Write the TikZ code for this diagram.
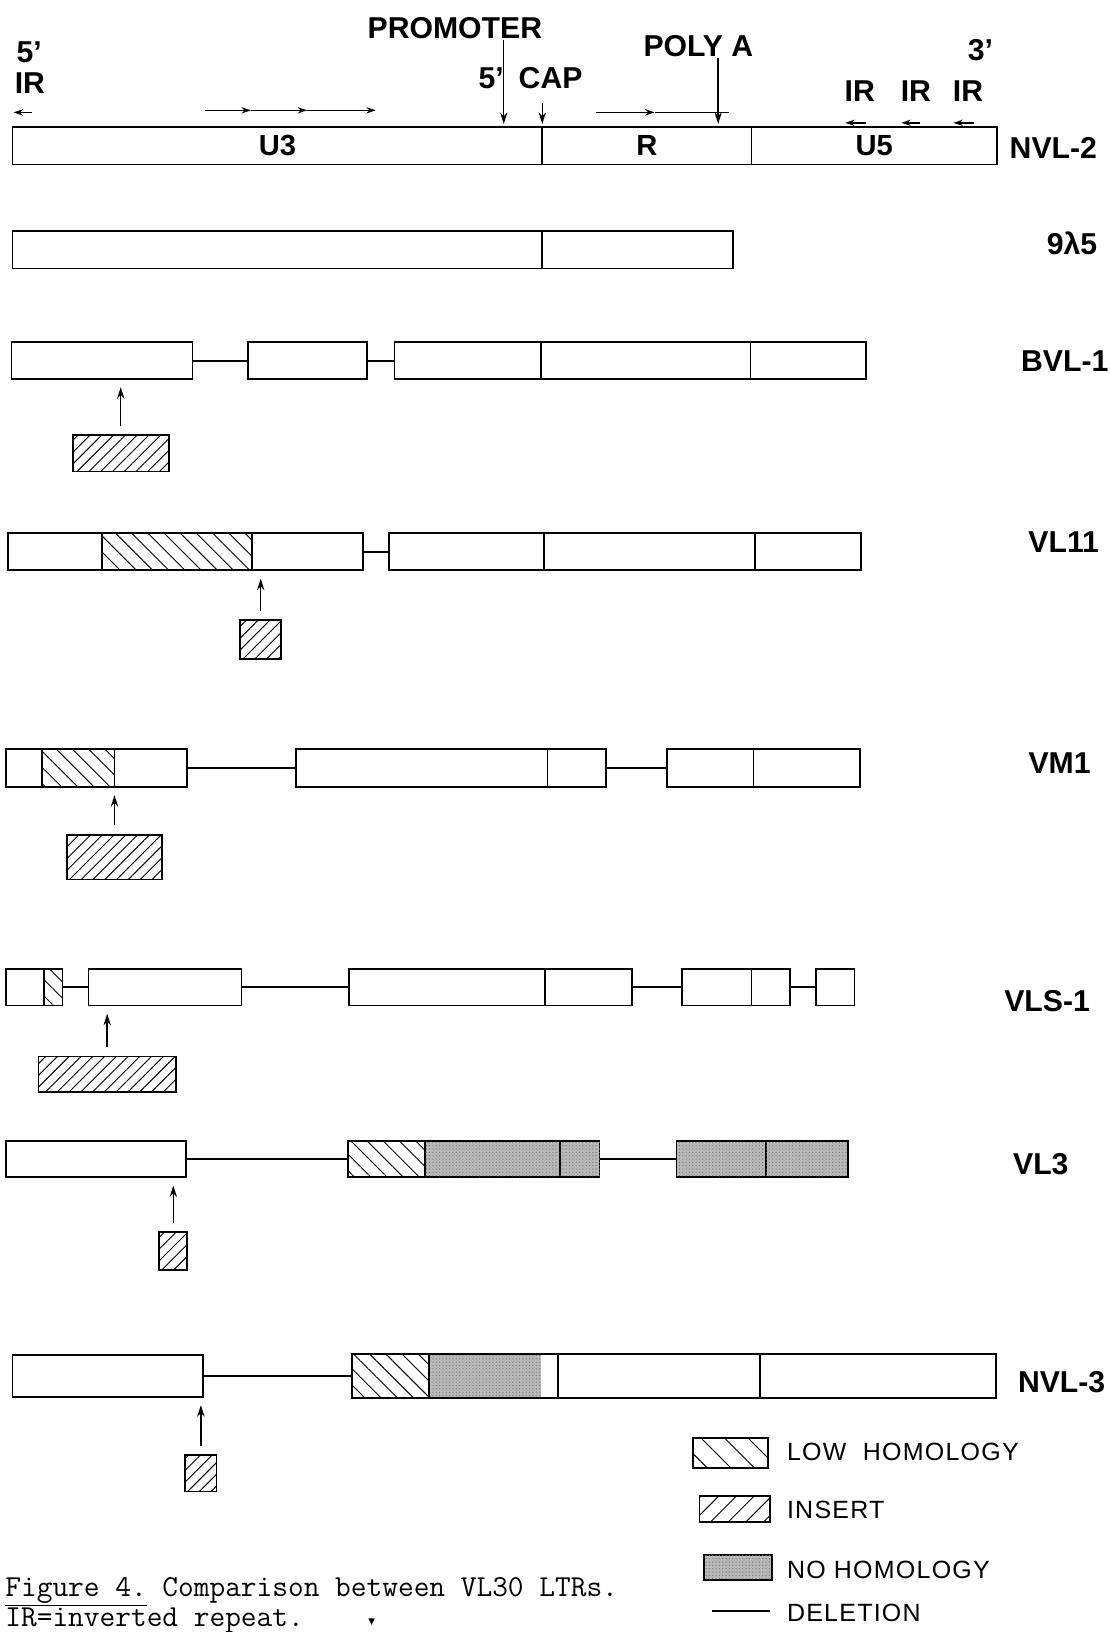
\documentclass[tikz,border=0pt]{standalone}
\usepackage{fontspec}
\setmainfont{Liberation Sans}
\newfontfamily\capfont{Latin Modern Mono}
\newfontfamily\legfont[LetterSpace=5]{Liberation Sans}
\usetikzlibrary{patterns.meta,arrows.meta}
% \seg[text]{name}{x1}{x2}{ytop}{height}{style}
\newcommand{\seg}[7][]{\node[box,#7,minimum width={(#4)-(#3)},minimum height=#6,anchor=north west] (#2) at (#3,#5) {#1};}
\begin{document}
\begin{tikzpicture}[x=1pt,y=-1pt,
  box/.style={draw,rectangle,line width=1.8pt,inner sep=0pt,outer sep=0pt,font=\bfseries\fontsize{28}{30}\selectfont},
  lowh/.style={pattern={Lines[angle=-45,distance=#1,line width=0.9pt]}},
  lowh/.default=11pt,
  insh/.style={pattern={Lines[angle=45,distance=#1,line width=0.9pt]}},
  insh/.default=8pt,
  noh/.style={fill=black!28,postaction={pattern={Dots[distance=3.2pt,radius=0.7pt]},pattern color=black!50}},
  del/.style={line width=1.9pt},
  up/.style={-{Stealth[length=11pt,width=7pt]},line width=1.4pt,shorten <=9pt,shorten >=8pt},
  dn/.style={-{Stealth[length=11pt,width=7pt]},line width=1.4pt},
  sm/.style={-{Stealth[length=9pt,width=6pt]},line width=1.4pt},
  lbl/.style={font=\bfseries\fontsize{29}{31}\selectfont,inner sep=1pt},
  leg/.style={font=\legfont\fontsize{24}{26}\selectfont,anchor=west,inner sep=0pt},
  capt/.style={font=\capfont\fontsize{29.3}{31}\selectfont,anchor=base west,inner sep=0pt}
]
\useasboundingbox (0,0) rectangle (1066,1568);
\fill[white] (0,0) rectangle (1066,1568);

% ---------- top annotations ----------
\node[lbl] (fivep) at (28,50) {5'};
\node[lbl,anchor=west] (irl) at (13,80) {IR};
\node[lbl] (prom) at (437,27) {PROMOTER};
\node[lbl] (five2) at (472,75) {5'};
\node[lbl] (cap) at (529,75) {CAP};
\node[lbl] (polya) at (671,44) {POLY A};
\node[lbl] (three) at (942,48) {3'};
\node[lbl] (ir1) at (826,88) {IR};
\node[lbl] (ir2) at (880,88) {IR};
\node[lbl] (ir3) at (930,88) {IR};

\coordinate (a5s) at (31,108); \coordinate (a5e) at (13,108);
\draw[sm] (a5s) -- (a5e);
\coordinate (u0) at (197,106); \coordinate (u1) at (241,106);
\coordinate (u2) at (295,106); \coordinate (u3) at (361,106);
\draw[sm] (u0) -- (u1); \draw[sm] (u1) -- (u2); \draw[sm] (u2) -- (u3);
\coordinate (promtip) at (484,119);
\draw[dn] (prom.south -| promtip) -- (promtip);
\coordinate (capa) at (521,99); \coordinate (capb) at (521,119);
\draw[dn] (capa) -- (capb);
\coordinate (p0) at (573,108); \coordinate (p1) at (629,108); \coordinate (p2) at (700,108);
\draw[sm] (p0) -- (p1); \draw[line width=1.4pt] (p1) -- (p2);
\coordinate (polytip) at (690,119);
\draw[dn] (polya.south -| polytip) -- (polytip);
\coordinate (i1s) at (832,118); \coordinate (i1e) at (812,118);
\coordinate (i2s) at (884,118); \coordinate (i2e) at (866,118);
\coordinate (i3s) at (936,118); \coordinate (i3e) at (916,118);
\draw[sm] (i1s) -- (i1e); \draw[sm] (i2s) -- (i2e); \draw[sm] (i3s) -- (i3e);

% ---------- NVL-2 ----------
\seg[U3]{n2a}{12}{521}{122}{36}{}
\seg[R]{n2b}{521}{722}{122}{36}{}
\seg[U5]{n2c}{722}{958}{122}{36}{}
\node[lbl] (lnvl2) at (1012,142) {NVL-2};

% ---------- 9 lambda 5 ----------
\seg{g1}{12}{521}{222}{36}{}
\seg{g2}{521}{704}{222}{36}{}
\node[lbl] (lg) at (1030,234) {9λ5};

% ---------- BVL-1 ----------
\seg{b1}{11}{185}{329}{35}{}
\seg{b2}{238}{353}{329}{35}{}
\seg{b3}{379}{520}{329}{35}{}
\seg{b4}{520}{721}{329}{35}{}
\seg{b5}{721}{832}{329}{35}{}
\draw[del] (b1.east) -- (b2.west);
\draw[del] (b2.east) -- (b3.west);
\seg{bi}{70}{162}{418}{35}{insh}
\draw[up] (bi.north) -- (bi.north |- b1.south);
\node[lbl] (lb) at (1023,347) {BVL-1};

% ---------- VL11 ----------
\seg{v1}{8}{98}{512}{36}{}
\seg{v2}{98}{242}{512}{36}{lowh}
\seg{v3}{242}{349}{512}{36}{}
\seg{v4}{374}{523}{512}{36}{}
\seg{v5}{523}{725}{512}{36}{}
\seg{v6}{725}{827}{512}{36}{}
\draw[del] (v3.east) -- (v4.west);
\seg{vi}{231}{270}{596}{37}{insh}
\draw[up] (vi.north) -- (vi.north |- v3.south);
\node[lbl] (lv) at (1022,521) {VL11};

% ---------- VM1 ----------
\seg{m1}{6}{40}{720}{36}{}
\seg{m2}{40}{110}{720}{36}{lowh}
\seg{m3}{110}{180}{720}{36}{}
\seg{m4}{284}{526}{720}{36}{}
\seg{m5}{526}{582}{720}{36}{}
\seg{m6}{641}{724}{720}{36}{}
\seg{m7}{724}{826}{720}{36}{}
\draw[del] (m3.east) -- (m4.west);
\draw[del] (m5.east) -- (m6.west);
\seg{mi}{64}{156}{802}{43}{insh}
\draw[up] (mi.north) -- (mi.north |- m2.south);
\node[lbl] (lm) at (1018,733) {VM1};

% ---------- VLS-1 ----------
\seg{s1}{6}{42}{931}{35}{}
\seg{s2}{42}{60}{931}{35}{lowh}
\seg{s3}{85}{232}{931}{35}{}
\seg{s4}{335}{524}{931}{35}{}
\seg{s5}{524}{607}{931}{35}{}
\seg{s6}{655}{722}{931}{35}{}
\seg{s7}{722}{759}{931}{35}{}
\seg{s8}{784}{821}{931}{35}{}
\draw[del] (s2.east) -- (s3.west);
\draw[del] (s3.east) -- (s4.west);
\draw[del] (s5.east) -- (s6.west);
\draw[del] (s7.east) -- (s8.west);
\seg{si}{37}{169}{1015}{34}{insh}
\draw[up] (si.north) -- (si.north |- s3.south);
\node[lbl] (ls) at (1006,962) {VLS-1};

% ---------- VL3 ----------
\seg{t1}{6}{179}{1096}{35}{}
\seg{t2}{334}{408}{1096}{35}{lowh}
\seg{t3}{408}{538}{1096}{35}{noh}
\seg{t4}{538}{576}{1096}{35}{noh}
\seg{t5}{650}{736}{1096}{35}{noh}
\seg{t6}{736}{815}{1096}{35}{noh}
\draw[del] (t1.east) -- (t2.west);
\draw[del] (t4.east) -- (t5.west);
\seg{ti}{153}{180}{1184}{36}{insh}
\draw[up] (ti.north) -- (ti.north |- t1.south);
\node[lbl] (lt) at (1000,1118) {VL3};

% ---------- NVL-3 ----------
\seg{r1}{12}{195}{1302}{40}{}
\seg{r3g}{412}{520}{1301}{42}{noh,draw=none}
\seg{r2}{338}{412}{1301}{42}{lowh}
\seg{r3}{412}{536}{1301}{42}{}
\seg{r4}{536}{730}{1301}{42}{}
\seg{r5}{730}{957}{1301}{42}{}
\draw[del] (r1.east) -- (r2.west);
\seg{ri}{178}{208}{1398}{35}{insh}
\draw[up] (ri.north) -- (ri.north |- r1.south);
\node[lbl] (lr) at (1020,1328) {NVL-3};

% ---------- legend ----------
\seg{kl}{666}{738}{1382}{28}{lowh=16pt}
\node[leg] (tl) at (756,1395) {LOW\ \ HOMOLOGY};
\seg{ki}{672}{740}{1437}{25}{insh=12pt}
\node[leg] (ti2) at (756,1451) {INSERT};
\seg{kn}{676}{742}{1494}{24}{noh}
\node[leg] (tn) at (756,1508) {NO HOMOLOGY};
\coordinate (kd1) at (684,1548); \coordinate (kd2) at (740,1548);
\draw[del] (kd1) -- (kd2);
\node[leg] (td) at (756,1550) {DELETION};

% ---------- caption ----------
\node[capt] (cap1) at (5,1534) {\underline{Figure 4.} Comparison between VL30 LTRs.};
\node[capt] (cap2) at (5,1563) {IR=inverted repeat.};
\fill (354,1555) -- (360,1555) -- (357,1561) -- cycle;
\end{tikzpicture}
\end{document}
